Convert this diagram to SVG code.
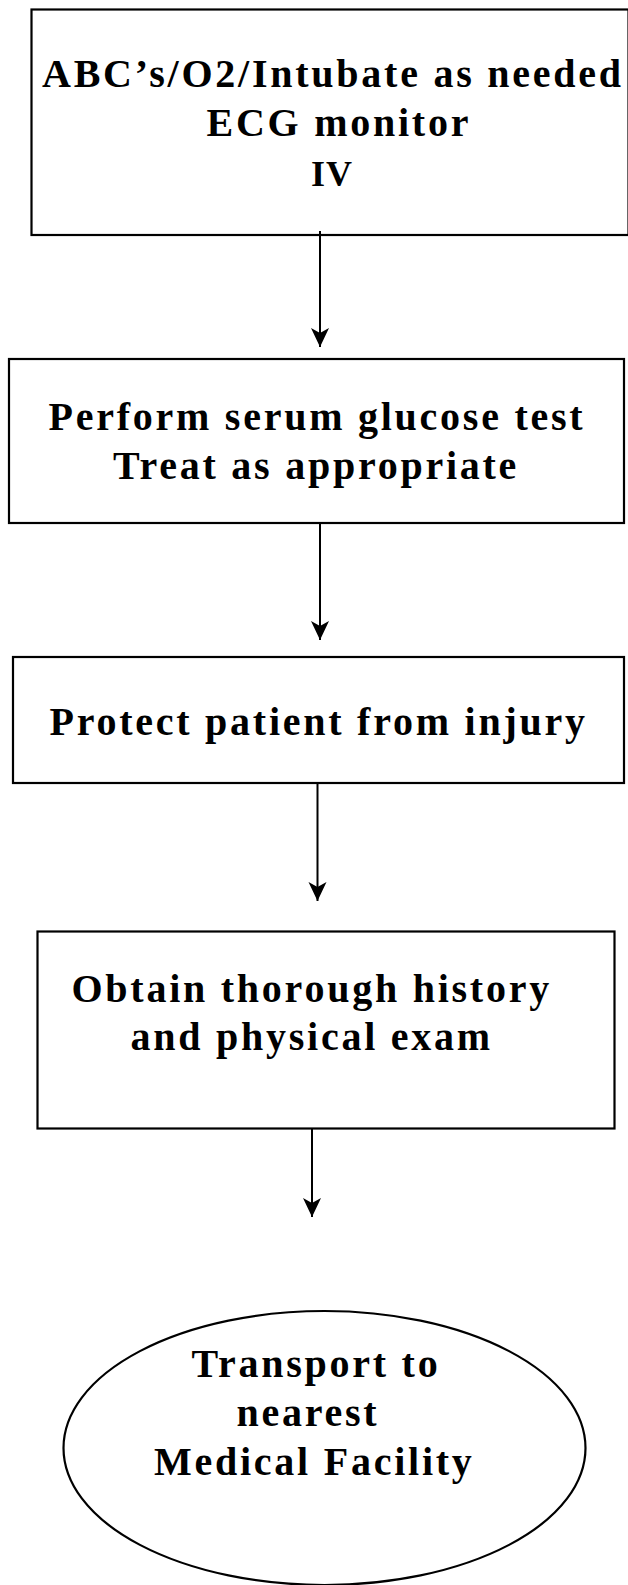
<svg xmlns="http://www.w3.org/2000/svg" width="628" height="1585" viewBox="0 0 628 1585">
<style>
.box{fill:#fff;stroke:#000;stroke-width:2.2}
.t{font-family:"Liberation Serif","Times New Roman",serif;font-weight:bold;font-size:40px;letter-spacing:2.75px;fill:#000}
.c{stroke:#000;stroke-width:2;fill:none}
</style>
<defs>
<marker id="ah" viewBox="0 0 20 20" refX="19" refY="10" markerWidth="20" markerHeight="20" markerUnits="userSpaceOnUse" orient="auto">
<path d="M0,1 L19,10 L0,19 L5,10 Z" fill="#000"/>
</marker>
</defs>
<rect width="628" height="1585" fill="#fff"/>
<g id="node1">
<rect class="box" x="31.5" y="9.5" width="597" height="225.5"/>
<text class="t" x="42" y="87">ABC’s/O2/Intubate as needed</text>
<text class="t" x="206.5" y="136">ECG monitor</text>
<text class="t" x="311" y="186" style="font-size:36px;letter-spacing:1px">IV</text>
</g>
<g id="node2">
<rect class="box" x="9" y="359" width="615" height="164"/>
<text class="t" x="48.5" y="430">Perform serum glucose test</text>
<text class="t" x="113" y="479">Treat as appropriate</text>
</g>
<g id="node3">
<rect class="box" x="13" y="657" width="611" height="126"/>
<text class="t" x="49.5" y="735">Protect patient from injury</text>
</g>
<g id="node4">
<rect class="box" x="37.5" y="931.5" width="577" height="197"/>
<text class="t" x="71.5" y="1002">Obtain thorough history</text>
<text class="t" x="130.5" y="1050">and physical exam</text>
</g>
<g id="node5">
<ellipse class="box" cx="324.5" cy="1448" rx="261" ry="137"/>
<text class="t" x="191.5" y="1377">Transport to</text>
<text class="t" x="236.5" y="1426">nearest</text>
<text class="t" x="154" y="1475">Medical Facility</text>
</g>
<g id="connectors">
<line class="c" x1="320" y1="231" x2="320" y2="347" marker-end="url(#ah)"/>
<line class="c" x1="320" y1="523" x2="320" y2="640" marker-end="url(#ah)"/>
<line class="c" x1="317.5" y1="783" x2="317.5" y2="901" marker-end="url(#ah)"/>
<line class="c" x1="312" y1="1128" x2="312" y2="1217" marker-end="url(#ah)"/>
</g>
</svg>
